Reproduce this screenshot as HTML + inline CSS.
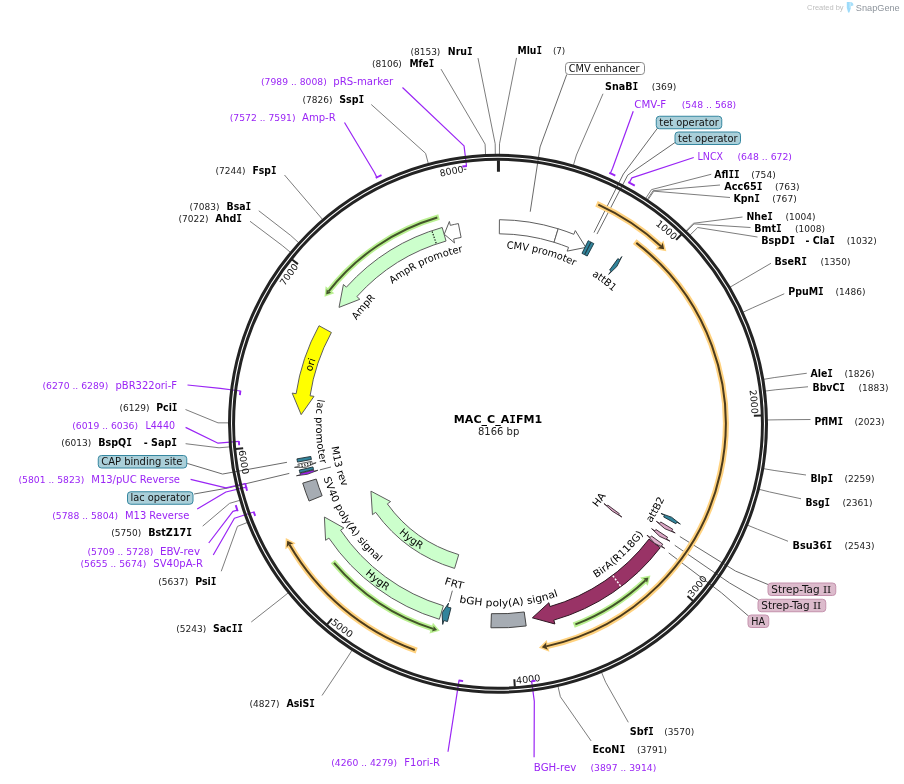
<!DOCTYPE html>
<html><head><meta charset="utf-8"><title>MAC_C_AIFM1</title>
<style>html,body{margin:0;padding:0;background:#fff}svg{display:block}text{font-family:"DejaVu Sans","Liberation Sans",sans-serif;white-space:pre}</style>
</head><body>
<svg width="904" height="784" viewBox="0 0 904 784">
<rect width="904" height="784" fill="#ffffff"/>
<defs>
<path id="p1" d="M 588.96 186.95 A 253.72 253.72 0 0 1 719.93 300.83"/>
<path id="p2" d="M 728.12 316.96 A 253.72 253.72 0 0 1 742.96 489.87"/>
<path id="p3" d="M 631.46 647.5 A 260.48 260.48 0 0 0 744.02 509.38"/>
<path id="p4" d="M 438.23 677.33 A 260.48 260.48 0 0 0 615.18 656.44"/>
<path id="p5" d="M 278.68 564.33 A 260.48 260.48 0 0 0 420.32 672.43"/>
<path id="p6" d="M 242.69 372.15 A 260.48 260.48 0 0 0 269.22 548.35"/>
<path id="p7" d="M 253.54 355.91 A 253.72 253.72 0 0 1 354.37 214.65"/>
<path id="p8" d="M 369.64 204.95 A 253.72 253.72 0 0 1 540.34 173.64"/>
<path id="p9" d="M 372.47 301.3 A 175.4 175.4 0 0 1 666.86 376.34"/>
<path id="p10" d="M 428.48 262.77 A 175.4 175.4 0 0 1 672.22 444.11"/>
<path id="p11" d="M 323.47 406.38 A 175.4 175.4 0 0 1 600.35 281.36"/>
<path id="p12" d="M 332.16 480.9 A 175.4 175.4 0 0 1 531.47 251.62"/>
<path id="p13" d="M 355.41 554.46 A 193.4 193.4 0 0 1 456.14 234.98"/>
<path id="p14" d="M 400.16 270.22 A 182.1 182.1 0 0 0 413.92 585.32"/>
<path id="p15" d="M 379.34 304.73 A 168.1 168.1 0 0 0 454.21 586.1"/>
<path id="p16" d="M 335.01 341.47 A 182.6 182.6 0 0 0 508.19 606.12"/>
<path id="p17" d="M 299.16 397.27 A 200.6 200.6 0 0 0 574.44 609.26"/>
<path id="p18" d="M 351.5 405.81 A 147.6 147.6 0 0 0 555.67 559.67"/>
<path id="p19" d="M 334.44 466.71 A 169.1 169.1 0 0 0 616.94 544"/>
<path id="p20" d="M 345.73 524.58 A 182.6 182.6 0 0 0 661.42 505.28"/>
<path id="p21" d="M 443.55 598.09 A 182.6 182.6 0 0 0 676.17 383.81"/>
<path id="p22" d="M 502.46 606.35 A 182.6 182.6 0 0 0 653.86 328.66"/>
<path id="p23" d="M 482.41 552.66 A 129.8 129.8 0 0 0 617.39 372.87"/>
</defs>
<polyline points="516.5,57.9 499.51,143.8 499.45,154.8" fill="none" stroke="#7d7d7d" stroke-width="1" />
<polyline points="603,93.75 576.43,155.01 573.35,165.57" fill="none" stroke="#7d7d7d" stroke-width="1" />
<polyline points="711.25,174.25 651.48,189.61 645.45,198.81" fill="none" stroke="#7d7d7d" stroke-width="1" />
<polyline points="720,185 653.1,190.68 647.01,199.84" fill="none" stroke="#7d7d7d" stroke-width="1" />
<polyline points="730,197.5 653.82,191.16 647.7,200.3" fill="none" stroke="#7d7d7d" stroke-width="1" />
<polyline points="742.5,217 693.42,223.27 685.74,231.15" fill="none" stroke="#7d7d7d" stroke-width="1" />
<polyline points="750.5,227.5 694.04,223.88 686.34,231.73" fill="none" stroke="#7d7d7d" stroke-width="1" />
<polyline points="757.5,237 697.7,227.53 689.85,235.24" fill="none" stroke="#7d7d7d" stroke-width="1" />
<polyline points="771,263.25 739.29,281.75 729.81,287.33" fill="none" stroke="#7d7d7d" stroke-width="1" />
<polyline points="784.25,293.75 752.81,307.73 742.8,312.29" fill="none" stroke="#7d7d7d" stroke-width="1" />
<polyline points="806.75,373.25 774.16,377.58 763.31,379.4" fill="none" stroke="#7d7d7d" stroke-width="1" />
<polyline points="808,386.75 775.92,389.74 765,391.08" fill="none" stroke="#7d7d7d" stroke-width="1" />
<polyline points="810.5,419.5 777.97,419.81 766.97,419.97" fill="none" stroke="#7d7d7d" stroke-width="1" />
<polyline points="806,475 774.09,470.44 763.24,468.61" fill="none" stroke="#7d7d7d" stroke-width="1" />
<polyline points="801,498.75 769.58,491.94 758.91,489.27" fill="none" stroke="#7d7d7d" stroke-width="1" />
<polyline points="788,541.25 757.41,529.18 747.22,525.04" fill="none" stroke="#7d7d7d" stroke-width="1" />
<polyline points="628.3,722.3 605.67,682.27 601.44,672.12" fill="none" stroke="#7d7d7d" stroke-width="1" />
<polyline points="591.1,740.9 560.38,696.76 557.93,686.04" fill="none" stroke="#7d7d7d" stroke-width="1" />
<polyline points="478,58.1 495.2,143.81 495.31,154.81" fill="none" stroke="#7d7d7d" stroke-width="1" />
<polyline points="441,69.1 485.08,144.1 485.59,155.09" fill="none" stroke="#7d7d7d" stroke-width="1" />
<polyline points="371.25,104.5 425.58,153.33 428.43,163.95" fill="none" stroke="#7d7d7d" stroke-width="1" />
<polyline points="284.5,175 315.61,211.35 322.78,219.7" fill="none" stroke="#7d7d7d" stroke-width="1" />
<polyline points="258.75,210.75 290.76,235.52 298.9,242.91" fill="none" stroke="#7d7d7d" stroke-width="1" />
<polyline points="250,221.25 282.15,245.45 290.63,252.45" fill="none" stroke="#7d7d7d" stroke-width="1" />
<polyline points="185.5,409.5 218,422.83 229,422.87" fill="none" stroke="#7d7d7d" stroke-width="1" />
<polyline points="185.6,443.7 219.03,447.79 229.99,446.85" fill="none" stroke="#7d7d7d" stroke-width="1" />
<polyline points="202.7,526.1 229.54,503.37 240.09,500.24" fill="none" stroke="#7d7d7d" stroke-width="1" />
<polyline points="221.25,571.25 237.47,526.38 247.7,522.35" fill="none" stroke="#7d7d7d" stroke-width="1" />
<polyline points="251.25,622 279.97,599.48 288.54,592.58" fill="none" stroke="#7d7d7d" stroke-width="1" />
<polyline points="322,695.5 346.32,659.16 352.28,649.91" fill="none" stroke="#7d7d7d" stroke-width="1" />
<polyline points="566.75,74.5 540.07,146.98 530.23,211.73" fill="none" stroke="#6a6a6a" stroke-width="1" />
<polyline points="658,127.5 623.37,173.99 593.99,232.53" fill="none" stroke="#6a6a6a" stroke-width="1" />
<polyline points="675,142.5 627.74,175.11 596.98,234.07" fill="none" stroke="#6a6a6a" stroke-width="1" />
<polyline points="768,584.5 735.55,571.08 679.88,536.57" fill="none" stroke="#6a6a6a" stroke-width="1" />
<polyline points="758.75,600 729.58,582.96 674.78,545.29" fill="none" stroke="#6a6a6a" stroke-width="1" />
<polyline points="748.75,616.25 721.32,592.7 668.68,552.89" fill="none" stroke="#6a6a6a" stroke-width="1" />
<polyline points="187.2,463.4 222.55,474.06 286.98,462.3" fill="none" stroke="#6a6a6a" stroke-width="1" />
<polyline points="194.1,494 227.53,488.08 289.31,473.4" fill="none" stroke="#6a6a6a" stroke-width="1" />
<line x1="319.86" y1="469.87" x2="330.99" y2="466.99" stroke="#6a6a6a" stroke-width="1"/>
<line x1="449.32" y1="601.76" x2="452.35" y2="590.67" stroke="#6a6a6a" stroke-width="1"/>
<polyline points="402.5,87.5 464.04,145.87 466.51,166.02" fill="none" stroke="#9a25f5" stroke-width="1.2" stroke-linejoin="round"/>
<polyline points="344.5,122.5 374.44,172.54 376.82,177.38" fill="none" stroke="#9a25f5" stroke-width="1.2" stroke-linejoin="round"/>
<polyline points="187.5,385 220.24,388.45 240.38,391.02" fill="none" stroke="#9a25f5" stroke-width="1.2" stroke-linejoin="round"/>
<polyline points="185.6,427.4 218.1,443.2 238.9,441.47" fill="none" stroke="#9a25f5" stroke-width="1.2" stroke-linejoin="round"/>
<polyline points="190.6,479.3 225.9,487.8 245.26,483.51" fill="none" stroke="#9a25f5" stroke-width="1.2" stroke-linejoin="round"/>
<polyline points="197.2,509 225.9,492 246.16,487.2" fill="none" stroke="#9a25f5" stroke-width="1.2" stroke-linejoin="round"/>
<polyline points="208.75,543 232.9,511.4 237.31,510.1" fill="none" stroke="#9a25f5" stroke-width="1.2" stroke-linejoin="round"/>
<polyline points="213.25,555 234.4,518.3 253.75,512.03" fill="none" stroke="#9a25f5" stroke-width="1.2" stroke-linejoin="round"/>
<polyline points="448,751.75 455.93,700.62 458.98,680.55" fill="none" stroke="#9a25f5" stroke-width="1.2" stroke-linejoin="round"/>
<polyline points="633.25,111.25 612.59,168.32 610.38,173.25" fill="none" stroke="#9a25f5" stroke-width="1.2" stroke-linejoin="round"/>
<polyline points="693.75,157.5 631.89,177.89 629.31,182.63" fill="none" stroke="#9a25f5" stroke-width="1.2" stroke-linejoin="round"/>
<polyline points="534.1,757.3 534.31,701.44 531.67,681.31" fill="none" stroke="#9a25f5" stroke-width="1.2" stroke-linejoin="round"/>
<circle cx="498" cy="423.8" r="268.5" fill="none" stroke="#232323" stroke-width="3"/>
<circle cx="498" cy="423.8" r="264.45" fill="none" stroke="#232323" stroke-width="3"/>
<line x1="498.46" y1="160.3" x2="498.44" y2="171.8" stroke="#232323" stroke-width="3"/>
<line x1="681.32" y1="234.53" x2="676.11" y2="239.91" stroke="#232323" stroke-width="2"/>
<text font-size="9.4" fill="#111" font-weight="normal" text-anchor="middle"><textPath href="#p1" startOffset="50%" textLength="23.88" lengthAdjust="spacingAndGlyphs">1000</textPath></text>
<line x1="761.37" y1="415.39" x2="753.87" y2="415.63" stroke="#232323" stroke-width="2"/>
<text font-size="9.4" fill="#111" font-weight="normal" text-anchor="middle"><textPath href="#p2" startOffset="50%" textLength="23.88" lengthAdjust="spacingAndGlyphs">2000</textPath></text>
<line x1="693.03" y1="600.99" x2="687.48" y2="595.94" stroke="#232323" stroke-width="2"/>
<text font-size="9.4" fill="#111" font-weight="normal" text-anchor="middle"><textPath href="#p3" startOffset="50%" textLength="24.52" lengthAdjust="spacingAndGlyphs">3000</textPath></text>
<line x1="514.82" y1="686.76" x2="514.34" y2="679.28" stroke="#232323" stroke-width="2"/>
<text font-size="9.4" fill="#111" font-weight="normal" text-anchor="middle"><textPath href="#p4" startOffset="50%" textLength="24.52" lengthAdjust="spacingAndGlyphs">4000</textPath></text>
<line x1="327.13" y1="624.39" x2="331.99" y2="618.68" stroke="#232323" stroke-width="2"/>
<text font-size="9.4" fill="#111" font-weight="normal" text-anchor="middle"><textPath href="#p5" startOffset="50%" textLength="24.52" lengthAdjust="spacingAndGlyphs">5000</textPath></text>
<line x1="235.71" y1="449" x2="243.17" y2="448.29" stroke="#232323" stroke-width="2"/>
<text font-size="9.4" fill="#111" font-weight="normal" text-anchor="middle"><textPath href="#p6" startOffset="50%" textLength="24.52" lengthAdjust="spacingAndGlyphs">6000</textPath></text>
<line x1="292.06" y1="259.42" x2="297.92" y2="264.1" stroke="#232323" stroke-width="2"/>
<text font-size="9.4" fill="#111" font-weight="normal" text-anchor="middle"><textPath href="#p7" startOffset="50%" textLength="23.88" lengthAdjust="spacingAndGlyphs">7000</textPath></text>
<text font-size="9.4" fill="#111" font-weight="normal" text-anchor="middle"><textPath href="#p8" startOffset="50%" textLength="23.88" lengthAdjust="spacingAndGlyphs">8000</textPath></text>
<line x1="463.9" y1="169.3" x2="466.3" y2="169.3" stroke="#333" stroke-width="0.9"/>
<path d="M 462.34 166.56 A 259.7 259.7 0 0 1 466.9 165.97" fill="none" stroke="#9a25f5" stroke-width="1.9"/>
<path d="M 375.74 177.92 A 274.6 274.6 0 0 1 381.52 175.13" fill="none" stroke="#9a25f5" stroke-width="1.9"/>
<path d="M 239.88 395.18 A 259.7 259.7 0 0 1 240.43 390.62" fill="none" stroke="#9a25f5" stroke-width="1.9"/>
<path d="M 239.19 445.26 A 259.7 259.7 0 0 1 238.87 441.07" fill="none" stroke="#9a25f5" stroke-width="1.9"/>
<path d="M 246.4 488.16 A 259.7 259.7 0 0 1 245.17 483.12" fill="none" stroke="#9a25f5" stroke-width="1.9"/>
<path d="M 247.06 490.68 A 259.7 259.7 0 0 1 246.06 486.81" fill="none" stroke="#9a25f5" stroke-width="1.9"/>
<path d="M 237.69 511.24 A 274.6 274.6 0 0 1 235.72 505.14" fill="none" stroke="#9a25f5" stroke-width="1.9"/>
<path d="M 255.2 515.96 A 259.7 259.7 0 0 1 253.61 511.65" fill="none" stroke="#9a25f5" stroke-width="1.9"/>
<path d="M 463.14 681.15 A 259.7 259.7 0 0 1 458.59 680.49" fill="none" stroke="#9a25f5" stroke-width="1.9"/>
<path d="M 609.29 172.76 A 274.6 274.6 0 0 1 615.31 175.52" fill="none" stroke="#9a25f5" stroke-width="1.9"/>
<path d="M 628.26 182.06 A 274.6 274.6 0 0 1 634.78 185.69" fill="none" stroke="#9a25f5" stroke-width="1.9"/>
<path d="M 535.44 680.79 A 259.7 259.7 0 0 1 531.28 681.36" fill="none" stroke="#9a25f5" stroke-width="1.9"/>
<path d="M 596.5 203.85 A 241 241 0 0 1 660.94 246.23" fill="none" stroke="#ffd27f" stroke-width="6" stroke-linecap="butt"/>
<path d="M 666.32 251.32 L 663.48 240.43 L 655.44 249.34 Z" fill="#ffd27f"/>
<path d="M 598.32 204.67 A 241 241 0 0 1 660.94 246.23" fill="none" stroke="#4c3b1c" stroke-width="2"/>
<path d="M 664.16 249.24 L 662.76 242.75 L 660.94 246.23 L 657.65 248.37 Z" fill="#4c3b1c"/>
<path d="M 416.66 650.66 A 241 241 0 0 1 289.41 544.52" fill="none" stroke="#ffd27f" stroke-width="6" stroke-linecap="butt"/>
<path d="M 285.8 538.06 L 285.25 549.29 L 295.59 543.19 Z" fill="#ffd27f"/>
<path d="M 414.78 649.98 A 241 241 0 0 1 289.41 544.52" fill="none" stroke="#4c3b1c" stroke-width="2"/>
<path d="M 287.24 540.69 L 286.63 547.3 L 289.41 544.52 L 293.2 543.46 Z" fill="#4c3b1c"/>
<path d="M 634.71 241.7 A 227.7 227.7 0 0 1 546.13 646.36" fill="none" stroke="#ffd27f" stroke-width="6" stroke-linecap="butt"/>
<path d="M 538.87 647.8 L 549.4 651.78 L 546.76 640.07 Z" fill="#ffd27f"/>
<path d="M 636.3 242.91 A 227.7 227.7 0 0 1 546.13 646.36" fill="none" stroke="#4c3b1c" stroke-width="2"/>
<path d="M 541.82 647.24 L 547.92 649.85 L 546.13 646.36 L 546.28 642.43 Z" fill="#4c3b1c"/>
<path d="M 439.03 217.05 A 215 215 0 0 0 328.61 291.4" fill="none" stroke="#b9f090" stroke-width="5.6" stroke-linecap="butt"/>
<path d="M 324.5 296.82 L 325.59 286.18 L 334.35 293.16 Z" fill="#b9f090"/>
<path d="M 437.3 217.55 A 215 215 0 0 0 328.61 291.4" fill="none" stroke="#43552a" stroke-width="2"/>
<path d="M 326.17 294.57 L 326.7 289.13 L 328.61 291.4 L 331.26 292.72 Z" fill="#43552a"/>
<path d="M 332.87 561.48 A 215 215 0 0 0 433.3 628.84" fill="none" stroke="#b9f090" stroke-width="5.6" stroke-linecap="butt"/>
<path d="M 439.82 630.78 L 429.47 633.49 L 432.95 622.84 Z" fill="#b9f090"/>
<path d="M 334.03 562.86 A 215 215 0 0 0 433.3 628.84" fill="none" stroke="#43552a" stroke-width="2"/>
<path d="M 437.13 630 L 431.85 631.42 L 433.3 628.84 L 433.61 625.89 Z" fill="#43552a"/>
<path d="M 573.72 625.03 A 215 215 0 0 0 645.55 580.17" fill="none" stroke="#b9f090" stroke-width="5.6" stroke-linecap="butt"/>
<path d="M 650.43 575.43 L 647.75 585.79 L 640.15 577.56 Z" fill="#b9f090"/>
<path d="M 575.4 624.39 A 215 215 0 0 0 645.55 580.17" fill="none" stroke="#43552a" stroke-width="2"/>
<path d="M 648.44 577.4 L 647.1 582.7 L 645.55 580.17 L 643.13 578.47 Z" fill="#43552a"/>
<path d="M 499.33 233.8 A 190 190 0 0 1 554.02 242.25 L 558.18 228.77 A 204.1 204.1 0 0 0 499.42 219.7 Z" fill="#ffffff" stroke="#5e5e5e" stroke-width="1"/>
<path d="M 554.02 242.25 A 190 190 0 0 1 568.59 247.4 L 567.11 251.12 L 585.84 247.41 L 575.32 230.6 L 573.83 234.31 A 204.1 204.1 0 0 0 558.18 228.77 Z" fill="#ffffff" stroke="#5e5e5e" stroke-width="1" stroke-linejoin="miter" />
<path d="M 581.98 253.37 A 190 190 0 0 1 584.46 254.61 L 590.88 242.06 A 204.1 204.1 0 0 0 588.21 240.72 Z" fill="#31849b" stroke="#1f3f4a" stroke-width="1"/>
<path d="M 584.72 254.75 A 190 190 0 0 1 587.18 256.03 L 593.8 243.58 A 204.1 204.1 0 0 0 591.16 242.2 Z" fill="#31849b" stroke="#1f3f4a" stroke-width="1"/>
<path d="M 609.61 270.04 A 190 190 0 0 1 611.08 271.12 L 608.7 274.33 L 616.8 266.59 L 621.85 256.57 L 619.47 259.78 A 204.1 204.1 0 0 0 617.89 258.62 Z" fill="#31849b" stroke="#1c2c33" stroke-width="0.9" stroke-linejoin="miter" />
<path d="M 663.63 516.89 A 190 190 0 0 0 664.48 515.36 L 660.98 513.43 L 671.53 517.16 L 680.34 524.08 L 676.84 522.16 A 204.1 204.1 0 0 1 675.92 523.8 Z" fill="#31849b" stroke="#1c2c33" stroke-width="0.9" stroke-linejoin="miter" />
<path d="M 660.69 521.95 A 190 190 0 0 1 659.77 523.45 L 656.37 521.35 L 664.82 528.69 L 675.19 532.94 L 671.78 530.84 A 204.1 204.1 0 0 0 672.76 529.23 Z" fill="#d9a6c4" stroke="#33222b" stroke-width="0.9" stroke-linejoin="miter" />
<path d="M 655.9 529.47 A 190 190 0 0 1 654.92 530.93 L 651.62 528.67 L 659.71 536.4 L 669.87 541.13 L 666.57 538.88 A 204.1 204.1 0 0 0 667.62 537.31 Z" fill="#d9a6c4" stroke="#33222b" stroke-width="0.9" stroke-linejoin="miter" />
<path d="M 649.01 539.1 A 190 190 0 0 1 549.95 606.56 L 548.85 602.71 L 532.39 617.83 L 554.89 623.97 L 553.8 620.12 A 204.1 204.1 0 0 0 660.22 547.66 Z" fill="#993366" stroke="#2e1622" stroke-width="1" stroke-linejoin="miter" />
<line x1="612.85" y1="575.79" x2="620.74" y2="586.24" stroke="#fff" stroke-width="1.5" stroke-dasharray="2 1.6"/>
<path d="M 651.38 535.94 A 190 190 0 0 1 650.2 537.53 L 647 535.13 L 654.62 543.38 L 664.7 548.36 L 661.5 545.97 A 204.1 204.1 0 0 0 662.76 544.26 Z" fill="#deb0cb" stroke="#33222b" stroke-width="0.9" stroke-linejoin="miter" />
<path d="M 607.77 505.1 A 136.6 136.6 0 0 1 607.14 505.94 L 603.95 503.54 L 612.23 511.15 L 621.84 517.01 L 618.65 514.6 A 151 151 0 0 0 619.34 513.67 Z" fill="#d9a6c4" stroke="#33222b" stroke-width="0.9" stroke-linejoin="miter" />
<path d="M 524.23 611.98 A 190 190 0 0 1 491.42 613.69 L 490.93 627.78 A 204.1 204.1 0 0 0 526.18 625.95 Z" fill="#a6acb3" stroke="#444" stroke-width="1"/>
<path d="M 450.98 607.89 A 190 190 0 0 1 447.52 606.97 L 448.58 603.12 L 442.07 612.75 L 442.71 624.42 L 443.77 620.56 A 204.1 204.1 0 0 0 447.49 621.55 Z" fill="#31849b" stroke="#1c2c33" stroke-width="0.9" stroke-linejoin="miter" />
<path d="M 443.38 605.78 A 190 190 0 0 1 340.58 530.19 L 343.89 527.95 L 324.4 517.03 L 325.58 540.32 L 328.9 538.08 A 204.1 204.1 0 0 0 439.32 619.28 Z" fill="#ccffcc" stroke="#5e5e5e" stroke-width="1" stroke-linejoin="miter" />
<path d="M 458.73 554.63 A 136.6 136.6 0 0 1 387.34 503.89 L 390.58 501.55 L 370.95 491.15 L 372.44 514.68 L 375.68 512.34 A 151 151 0 0 0 454.59 568.42 Z" fill="#ccffcc" stroke="#5e5e5e" stroke-width="1" stroke-linejoin="miter" />
<path d="M 322.14 495.72 A 190 190 0 0 1 316.21 479.05 L 302.72 483.16 A 204.1 204.1 0 0 0 309.09 501.05 Z" fill="#a6acb3" stroke="#444" stroke-width="1"/>
<path d="M 313.71 470.04 A 190 190 0 0 0 314.02 471.24 L 317.89 470.24 L 307.52 474.25 L 296.49 475.76 L 300.37 474.76 A 204.1 204.1 0 0 1 300.04 473.47 Z" fill="#a020f0" stroke="#333" stroke-width="0.8" stroke-linejoin="miter" />
<path d="M 313.57 469.47 A 190 190 0 0 1 312.96 466.91 L 299.22 470.11 A 204.1 204.1 0 0 0 299.88 472.86 Z" fill="#31849b" stroke="#1c2c33" stroke-width="0.9"/>
<path d="M 311.75 461.34 A 190 190 0 0 0 312.21 463.56 L 316.12 462.72 L 305.82 467.33 L 294.51 467.35 L 298.42 466.51 A 204.1 204.1 0 0 1 297.92 464.13 Z" fill="#ffffff" stroke="#333" stroke-width="0.8" stroke-linejoin="miter" />
<line x1="311.37" y1="464.42" x2="299.55" y2="466.99" stroke="#222" stroke-width="1.2" stroke-dasharray="1.3 1.6"/>
<line x1="311.03" y1="462.84" x2="299.19" y2="465.31" stroke="#222" stroke-width="1.2" stroke-dasharray="1.3 1.6"/>
<path d="M 311.38 459.48 A 190 190 0 0 1 310.83 456.46 L 296.94 458.88 A 204.1 204.1 0 0 0 297.53 462.12 Z" fill="#31849b" stroke="#1c2c33" stroke-width="0.9"/>
<path d="M 331.38 332.49 A 190 190 0 0 0 310.08 395.77 L 314.03 396.36 L 301.16 414.63 L 292.18 393.1 L 296.13 393.69 A 204.1 204.1 0 0 1 319.01 325.72 Z" fill="#ffff00" stroke="#5e5e5e" stroke-width="1" stroke-linejoin="miter" />
<path d="M 446.04 241.04 A 190 190 0 0 0 356.87 296.59 L 359.84 299.27 L 339.02 307.38 L 343.43 284.47 L 346.4 287.15 A 204.1 204.1 0 0 1 442.19 227.48 Z" fill="#ccffcc" stroke="#5e5e5e" stroke-width="1" stroke-linejoin="miter" />
<line x1="436.16" y1="243.3" x2="432.11" y2="231.48" stroke="#000" stroke-width="1.1" stroke-dasharray="1.4 1.4"/>
<path d="M 461.1 237.42 A 190 190 0 0 0 453.61 239.06 L 454.54 242.95 L 444.26 234.22 L 449.38 221.46 L 450.31 225.35 A 204.1 204.1 0 0 1 458.36 223.59 Z" fill="#ffffff" stroke="#5e5e5e" stroke-width="1" stroke-linejoin="miter" />
<text font-size="10" fill="#000" font-weight="normal" text-anchor="middle"><textPath href="#p9" startOffset="50%" textLength="70.85" lengthAdjust="spacingAndGlyphs">CMV promoter</textPath></text>
<text font-size="10" fill="#000" font-weight="normal" text-anchor="middle"><textPath href="#p10" startOffset="50%" textLength="26.55" lengthAdjust="spacingAndGlyphs">attB1</textPath></text>
<text font-size="10" fill="#000" font-weight="normal" text-anchor="middle"><textPath href="#p11" startOffset="50%" textLength="78.2" lengthAdjust="spacingAndGlyphs">AmpR promoter</textPath></text>
<text font-size="10" fill="#000" font-weight="normal" text-anchor="middle"><textPath href="#p12" startOffset="50%" textLength="29.2" lengthAdjust="spacingAndGlyphs">AmpR</textPath></text>
<text font-size="10" fill="#000" font-weight="normal" text-anchor="middle"><textPath href="#p13" startOffset="50%" textLength="12.86" lengthAdjust="spacingAndGlyphs">ori</textPath></text>
<text font-size="10" fill="#000" font-weight="normal" text-anchor="middle"><textPath href="#p14" startOffset="50%" textLength="65.29" lengthAdjust="spacingAndGlyphs">lac promoter</textPath></text>
<text font-size="10" fill="#000" font-weight="normal" text-anchor="middle"><textPath href="#p15" startOffset="50%" textLength="41.69" lengthAdjust="spacingAndGlyphs">M13 rev</textPath></text>
<text font-size="10" fill="#000" font-weight="normal" text-anchor="middle"><textPath href="#p16" startOffset="50%" textLength="101.6" lengthAdjust="spacingAndGlyphs">SV40 poly(A) signal</textPath></text>
<text font-size="10" fill="#000" font-weight="normal" text-anchor="middle"><textPath href="#p17" startOffset="50%" textLength="27.09" lengthAdjust="spacingAndGlyphs">HygR</textPath></text>
<text font-size="10" fill="#000" font-weight="normal" text-anchor="middle"><textPath href="#p18" startOffset="50%" textLength="27.27" lengthAdjust="spacingAndGlyphs">HygR</textPath></text>
<text font-size="10" fill="#000" font-weight="normal" text-anchor="middle"><textPath href="#p19" startOffset="50%" textLength="19.31" lengthAdjust="spacingAndGlyphs">FRT</textPath></text>
<text font-size="10" fill="#000" font-weight="normal" text-anchor="middle"><textPath href="#p20" startOffset="50%" textLength="100.69" lengthAdjust="spacingAndGlyphs">bGH poly(A) signal</textPath></text>
<text font-size="10" fill="#000" font-weight="normal" text-anchor="middle"><textPath href="#p21" startOffset="50%" textLength="64.88" lengthAdjust="spacingAndGlyphs">BirA(R118G)</textPath></text>
<text font-size="10" fill="#000" font-weight="normal" text-anchor="middle"><textPath href="#p22" startOffset="50%" textLength="27.65" lengthAdjust="spacingAndGlyphs">attB2</textPath></text>
<text font-size="10" fill="#000" font-weight="normal" text-anchor="middle"><textPath href="#p23" startOffset="50%" textLength="14.76" lengthAdjust="spacingAndGlyphs">HA</textPath></text>
<text x="498" y="422.6" font-size="10.2" text-anchor="middle" fill="#000" font-weight="bold" textLength="88.3" lengthAdjust="spacingAndGlyphs">MAC_C_A<tspan font-family='"DejaVu Sans Mono","Liberation Mono",monospace'>I</tspan>FM1</text>
<text x="498.6" y="434.8" font-size="10" text-anchor="middle" fill="#222" font-weight="normal" >8166 bp</text>
<text x="517.5" y="53.9" font-size="10" text-anchor="start" fill="#000" font-weight="bold" textLength="24.5" lengthAdjust="spacingAndGlyphs">Mlu<tspan font-family='"DejaVu Sans Mono","Liberation Mono",monospace'>I</tspan></text>
<text x="552.9" y="53.9" font-size="8.7" text-anchor="start" fill="#222" font-weight="normal" textLength="12.4" lengthAdjust="spacingAndGlyphs">(7)</text>
<text x="605" y="90" font-size="10" text-anchor="start" fill="#000" font-weight="bold" textLength="33.25" lengthAdjust="spacingAndGlyphs">SnaB<tspan font-family='"DejaVu Sans Mono","Liberation Mono",monospace'>I</tspan></text>
<text x="651.75" y="90" font-size="8.7" text-anchor="start" fill="#222" font-weight="normal" textLength="24.5" lengthAdjust="spacingAndGlyphs">(369)</text>
<text x="714.25" y="178" font-size="10" text-anchor="start" fill="#000" font-weight="bold" textLength="25.4" lengthAdjust="spacingAndGlyphs">Afl<tspan font-family='"DejaVu Sans Mono","Liberation Mono",monospace'>I</tspan><tspan font-family='"DejaVu Sans Mono","Liberation Mono",monospace'>I</tspan></text>
<text x="751.25" y="178" font-size="8.7" text-anchor="start" fill="#222" font-weight="normal" textLength="24.5" lengthAdjust="spacingAndGlyphs">(754)</text>
<text x="724.25" y="190" font-size="10" text-anchor="start" fill="#000" font-weight="bold" textLength="38.25" lengthAdjust="spacingAndGlyphs">Acc65<tspan font-family='"DejaVu Sans Mono","Liberation Mono",monospace'>I</tspan></text>
<text x="775" y="190" font-size="8.7" text-anchor="start" fill="#222" font-weight="normal" textLength="24.5" lengthAdjust="spacingAndGlyphs">(763)</text>
<text x="733.4" y="202" font-size="10" text-anchor="start" fill="#000" font-weight="bold" textLength="26.6" lengthAdjust="spacingAndGlyphs">Kpn<tspan font-family='"DejaVu Sans Mono","Liberation Mono",monospace'>I</tspan></text>
<text x="772.25" y="202" font-size="8.7" text-anchor="start" fill="#222" font-weight="normal" textLength="24.5" lengthAdjust="spacingAndGlyphs">(767)</text>
<text x="746.5" y="220" font-size="10" text-anchor="start" fill="#000" font-weight="bold" textLength="26.5" lengthAdjust="spacingAndGlyphs">Nhe<tspan font-family='"DejaVu Sans Mono","Liberation Mono",monospace'>I</tspan></text>
<text x="785.5" y="220" font-size="8.7" text-anchor="start" fill="#222" font-weight="normal" textLength="30" lengthAdjust="spacingAndGlyphs">(1004)</text>
<text x="754.25" y="232" font-size="10" text-anchor="start" fill="#000" font-weight="bold" textLength="27.5" lengthAdjust="spacingAndGlyphs">Bmt<tspan font-family='"DejaVu Sans Mono","Liberation Mono",monospace'>I</tspan></text>
<text x="795" y="232" font-size="8.7" text-anchor="start" fill="#222" font-weight="normal" textLength="30" lengthAdjust="spacingAndGlyphs">(1008)</text>
<text x="761.25" y="244.25" font-size="10" text-anchor="start" fill="#000" font-weight="bold" textLength="33.75" lengthAdjust="spacingAndGlyphs">BspD<tspan font-family='"DejaVu Sans Mono","Liberation Mono",monospace'>I</tspan></text>
<text x="846.75" y="244.25" font-size="8.7" text-anchor="start" fill="#222" font-weight="normal" textLength="30" lengthAdjust="spacingAndGlyphs">(1032)</text>
<text x="774.5" y="265" font-size="10" text-anchor="start" fill="#000" font-weight="bold" textLength="32.5" lengthAdjust="spacingAndGlyphs">BseR<tspan font-family='"DejaVu Sans Mono","Liberation Mono",monospace'>I</tspan></text>
<text x="820.5" y="265" font-size="8.7" text-anchor="start" fill="#222" font-weight="normal" textLength="30" lengthAdjust="spacingAndGlyphs">(1350)</text>
<text x="788.25" y="295" font-size="10" text-anchor="start" fill="#000" font-weight="bold" textLength="35.5" lengthAdjust="spacingAndGlyphs">PpuM<tspan font-family='"DejaVu Sans Mono","Liberation Mono",monospace'>I</tspan></text>
<text x="835.5" y="295" font-size="8.7" text-anchor="start" fill="#222" font-weight="normal" textLength="30" lengthAdjust="spacingAndGlyphs">(1486)</text>
<text x="810.5" y="376.75" font-size="10" text-anchor="start" fill="#000" font-weight="bold" textLength="22.5" lengthAdjust="spacingAndGlyphs">Ale<tspan font-family='"DejaVu Sans Mono","Liberation Mono",monospace'>I</tspan></text>
<text x="844.5" y="376.75" font-size="8.7" text-anchor="start" fill="#222" font-weight="normal" textLength="30" lengthAdjust="spacingAndGlyphs">(1826)</text>
<text x="812.5" y="390.75" font-size="10" text-anchor="start" fill="#000" font-weight="bold" textLength="32.5" lengthAdjust="spacingAndGlyphs">BbvC<tspan font-family='"DejaVu Sans Mono","Liberation Mono",monospace'>I</tspan></text>
<text x="858.5" y="390.75" font-size="8.7" text-anchor="start" fill="#222" font-weight="normal" textLength="30" lengthAdjust="spacingAndGlyphs">(1883)</text>
<text x="814.5" y="425" font-size="10" text-anchor="start" fill="#000" font-weight="bold" textLength="28.5" lengthAdjust="spacingAndGlyphs">PflM<tspan font-family='"DejaVu Sans Mono","Liberation Mono",monospace'>I</tspan></text>
<text x="854.5" y="425" font-size="8.7" text-anchor="start" fill="#222" font-weight="normal" textLength="30" lengthAdjust="spacingAndGlyphs">(2023)</text>
<text x="810.5" y="481.75" font-size="10" text-anchor="start" fill="#000" font-weight="bold" textLength="22.5" lengthAdjust="spacingAndGlyphs">Blp<tspan font-family='"DejaVu Sans Mono","Liberation Mono",monospace'>I</tspan></text>
<text x="844.5" y="481.75" font-size="8.7" text-anchor="start" fill="#222" font-weight="normal" textLength="30" lengthAdjust="spacingAndGlyphs">(2259)</text>
<text x="805.5" y="505.75" font-size="10" text-anchor="start" fill="#000" font-weight="bold" textLength="24.5" lengthAdjust="spacingAndGlyphs">Bsg<tspan font-family='"DejaVu Sans Mono","Liberation Mono",monospace'>I</tspan></text>
<text x="842.5" y="505.75" font-size="8.7" text-anchor="start" fill="#222" font-weight="normal" textLength="30" lengthAdjust="spacingAndGlyphs">(2361)</text>
<text x="792.5" y="548.75" font-size="10" text-anchor="start" fill="#000" font-weight="bold" textLength="39.5" lengthAdjust="spacingAndGlyphs">Bsu36<tspan font-family='"DejaVu Sans Mono","Liberation Mono",monospace'>I</tspan></text>
<text x="844.5" y="548.75" font-size="8.7" text-anchor="start" fill="#222" font-weight="normal" textLength="30" lengthAdjust="spacingAndGlyphs">(2543)</text>
<text x="629.8" y="735.3" font-size="10" text-anchor="start" fill="#000" font-weight="bold" textLength="23.9" lengthAdjust="spacingAndGlyphs">Sbf<tspan font-family='"DejaVu Sans Mono","Liberation Mono",monospace'>I</tspan></text>
<text x="664.2" y="735.3" font-size="8.7" text-anchor="start" fill="#222" font-weight="normal" textLength="30" lengthAdjust="spacingAndGlyphs">(3570)</text>
<text x="592.4" y="753.3" font-size="10" text-anchor="start" fill="#000" font-weight="bold" textLength="32.8" lengthAdjust="spacingAndGlyphs">EcoN<tspan font-family='"DejaVu Sans Mono","Liberation Mono",monospace'>I</tspan></text>
<text x="637" y="753.3" font-size="8.7" text-anchor="start" fill="#222" font-weight="normal" textLength="30" lengthAdjust="spacingAndGlyphs">(3791)</text>
<text x="805.5" y="244.25" font-size="10" text-anchor="start" fill="#000" font-weight="bold" textLength="29.5" lengthAdjust="spacingAndGlyphs">- Cla<tspan font-family='"DejaVu Sans Mono","Liberation Mono",monospace'>I</tspan></text>
<text x="472.7" y="54.9" font-size="10" text-anchor="end" fill="#000" font-weight="bold" textLength="24.9" lengthAdjust="spacingAndGlyphs">Nru<tspan font-family='"DejaVu Sans Mono","Liberation Mono",monospace'>I</tspan></text>
<text x="440.4" y="54.9" font-size="8.7" text-anchor="end" fill="#222" font-weight="normal" textLength="30" lengthAdjust="spacingAndGlyphs">(8153)</text>
<text x="434.2" y="66.6" font-size="10" text-anchor="end" fill="#000" font-weight="bold" textLength="24.8" lengthAdjust="spacingAndGlyphs">Mfe<tspan font-family='"DejaVu Sans Mono","Liberation Mono",monospace'>I</tspan></text>
<text x="401.9" y="66.6" font-size="8.7" text-anchor="end" fill="#222" font-weight="normal" textLength="30" lengthAdjust="spacingAndGlyphs">(8106)</text>
<text x="364.25" y="103" font-size="10" text-anchor="end" fill="#000" font-weight="bold" textLength="25" lengthAdjust="spacingAndGlyphs">Ssp<tspan font-family='"DejaVu Sans Mono","Liberation Mono",monospace'>I</tspan></text>
<text x="332.5" y="103" font-size="8.7" text-anchor="end" fill="#222" font-weight="normal" textLength="30" lengthAdjust="spacingAndGlyphs">(7826)</text>
<text x="276.5" y="173.75" font-size="10" text-anchor="end" fill="#000" font-weight="bold" textLength="24" lengthAdjust="spacingAndGlyphs">Fsp<tspan font-family='"DejaVu Sans Mono","Liberation Mono",monospace'>I</tspan></text>
<text x="245.5" y="173.75" font-size="8.7" text-anchor="end" fill="#222" font-weight="normal" textLength="30" lengthAdjust="spacingAndGlyphs">(7244)</text>
<text x="251.25" y="209.5" font-size="10" text-anchor="end" fill="#000" font-weight="bold" textLength="24.75" lengthAdjust="spacingAndGlyphs">Bsa<tspan font-family='"DejaVu Sans Mono","Liberation Mono",monospace'>I</tspan></text>
<text x="219.5" y="209.5" font-size="8.7" text-anchor="end" fill="#222" font-weight="normal" textLength="30" lengthAdjust="spacingAndGlyphs">(7083)</text>
<text x="242" y="221.75" font-size="10" text-anchor="end" fill="#000" font-weight="bold" textLength="26.75" lengthAdjust="spacingAndGlyphs">Ahd<tspan font-family='"DejaVu Sans Mono","Liberation Mono",monospace'>I</tspan></text>
<text x="208.5" y="221.75" font-size="8.7" text-anchor="end" fill="#222" font-weight="normal" textLength="30" lengthAdjust="spacingAndGlyphs">(7022)</text>
<text x="177.5" y="410.5" font-size="10" text-anchor="end" fill="#000" font-weight="bold" textLength="21.25" lengthAdjust="spacingAndGlyphs">Pci<tspan font-family='"DejaVu Sans Mono","Liberation Mono",monospace'>I</tspan></text>
<text x="149.5" y="410.5" font-size="8.7" text-anchor="end" fill="#222" font-weight="normal" textLength="30" lengthAdjust="spacingAndGlyphs">(6129)</text>
<text x="177" y="446.25" font-size="10" text-anchor="end" fill="#000" font-weight="bold" textLength="33.25" lengthAdjust="spacingAndGlyphs">- Sap<tspan font-family='"DejaVu Sans Mono","Liberation Mono",monospace'>I</tspan></text>
<text x="91.25" y="446.25" font-size="8.7" text-anchor="end" fill="#222" font-weight="normal" textLength="30" lengthAdjust="spacingAndGlyphs">(6013)</text>
<text x="192" y="536.25" font-size="10" text-anchor="end" fill="#000" font-weight="bold" textLength="43.75" lengthAdjust="spacingAndGlyphs">BstZ17<tspan font-family='"DejaVu Sans Mono","Liberation Mono",monospace'>I</tspan></text>
<text x="141.25" y="536.25" font-size="8.7" text-anchor="end" fill="#222" font-weight="normal" textLength="30" lengthAdjust="spacingAndGlyphs">(5750)</text>
<text x="216.5" y="585" font-size="10" text-anchor="end" fill="#000" font-weight="bold" textLength="21.25" lengthAdjust="spacingAndGlyphs">Psi<tspan font-family='"DejaVu Sans Mono","Liberation Mono",monospace'>I</tspan></text>
<text x="188.25" y="585" font-size="8.7" text-anchor="end" fill="#222" font-weight="normal" textLength="30" lengthAdjust="spacingAndGlyphs">(5637)</text>
<text x="243" y="631.75" font-size="10" text-anchor="end" fill="#000" font-weight="bold" textLength="30" lengthAdjust="spacingAndGlyphs">Sac<tspan font-family='"DejaVu Sans Mono","Liberation Mono",monospace'>I</tspan><tspan font-family='"DejaVu Sans Mono","Liberation Mono",monospace'>I</tspan></text>
<text x="206.25" y="631.75" font-size="8.7" text-anchor="end" fill="#222" font-weight="normal" textLength="30" lengthAdjust="spacingAndGlyphs">(5243)</text>
<text x="315" y="706.75" font-size="10" text-anchor="end" fill="#000" font-weight="bold" textLength="28.5" lengthAdjust="spacingAndGlyphs">AsiS<tspan font-family='"DejaVu Sans Mono","Liberation Mono",monospace'>I</tspan></text>
<text x="279.5" y="706.75" font-size="8.7" text-anchor="end" fill="#222" font-weight="normal" textLength="30" lengthAdjust="spacingAndGlyphs">(4827)</text>
<text x="132" y="446.25" font-size="10" text-anchor="end" fill="#000" font-weight="bold" textLength="33.75" lengthAdjust="spacingAndGlyphs">BspQ<tspan font-family='"DejaVu Sans Mono","Liberation Mono",monospace'>I</tspan></text>
<text x="393.25" y="85" font-size="10" text-anchor="end" fill="#9a25f5" font-weight="normal" textLength="60" lengthAdjust="spacingAndGlyphs">pRS-marker</text>
<text x="326.75" y="85" font-size="8.7" text-anchor="end" fill="#9a25f5" font-weight="normal" textLength="65.75" lengthAdjust="spacingAndGlyphs">(7989 .. 8008)</text>
<text x="335.75" y="121.25" font-size="10" text-anchor="end" fill="#9a25f5" font-weight="normal" textLength="33.75" lengthAdjust="spacingAndGlyphs">Amp-R</text>
<text x="295.5" y="121.25" font-size="8.7" text-anchor="end" fill="#9a25f5" font-weight="normal" textLength="65.75" lengthAdjust="spacingAndGlyphs">(7572 .. 7591)</text>
<text x="177" y="388.75" font-size="10" text-anchor="end" fill="#9a25f5" font-weight="normal" textLength="61.5" lengthAdjust="spacingAndGlyphs">pBR322ori-F</text>
<text x="108.25" y="388.75" font-size="8.7" text-anchor="end" fill="#9a25f5" font-weight="normal" textLength="65.75" lengthAdjust="spacingAndGlyphs">(6270 .. 6289)</text>
<text x="175" y="428.75" font-size="10" text-anchor="end" fill="#9a25f5" font-weight="normal" textLength="29.5" lengthAdjust="spacingAndGlyphs">L4440</text>
<text x="138" y="428.75" font-size="8.7" text-anchor="end" fill="#9a25f5" font-weight="normal" textLength="65.75" lengthAdjust="spacingAndGlyphs">(6019 .. 6036)</text>
<text x="180" y="482.5" font-size="10" text-anchor="end" fill="#9a25f5" font-weight="normal" textLength="88.75" lengthAdjust="spacingAndGlyphs">M13/pUC Reverse</text>
<text x="84.25" y="482.5" font-size="8.7" text-anchor="end" fill="#9a25f5" font-weight="normal" textLength="65.75" lengthAdjust="spacingAndGlyphs">(5801 .. 5823)</text>
<text x="189.25" y="518.75" font-size="10" text-anchor="end" fill="#9a25f5" font-weight="normal" textLength="64.25" lengthAdjust="spacingAndGlyphs">M13 Reverse</text>
<text x="118" y="518.75" font-size="8.7" text-anchor="end" fill="#9a25f5" font-weight="normal" textLength="65.75" lengthAdjust="spacingAndGlyphs">(5788 .. 5804)</text>
<text x="200" y="555" font-size="10" text-anchor="end" fill="#9a25f5" font-weight="normal" textLength="40" lengthAdjust="spacingAndGlyphs">EBV-rev</text>
<text x="153.25" y="555" font-size="8.7" text-anchor="end" fill="#9a25f5" font-weight="normal" textLength="65.75" lengthAdjust="spacingAndGlyphs">(5709 .. 5728)</text>
<text x="203" y="566.75" font-size="10" text-anchor="end" fill="#9a25f5" font-weight="normal" textLength="49.75" lengthAdjust="spacingAndGlyphs">SV40pA-R</text>
<text x="146.25" y="566.75" font-size="8.7" text-anchor="end" fill="#9a25f5" font-weight="normal" textLength="65.75" lengthAdjust="spacingAndGlyphs">(5655 .. 5674)</text>
<text x="440" y="765.75" font-size="10" text-anchor="end" fill="#9a25f5" font-weight="normal" textLength="35.75" lengthAdjust="spacingAndGlyphs">F1ori-R</text>
<text x="397" y="765.75" font-size="8.7" text-anchor="end" fill="#9a25f5" font-weight="normal" textLength="65.75" lengthAdjust="spacingAndGlyphs">(4260 .. 4279)</text>
<text x="634.25" y="108" font-size="10" text-anchor="start" fill="#9a25f5" font-weight="normal" textLength="32" lengthAdjust="spacingAndGlyphs">CMV-F</text>
<text x="681.75" y="108" font-size="8.7" text-anchor="start" fill="#9a25f5" font-weight="normal" textLength="54.5" lengthAdjust="spacingAndGlyphs">(548 .. 568)</text>
<text x="697.5" y="160" font-size="10" text-anchor="start" fill="#9a25f5" font-weight="normal" textLength="25.5" lengthAdjust="spacingAndGlyphs">LNCX</text>
<text x="737.5" y="160" font-size="8.7" text-anchor="start" fill="#9a25f5" font-weight="normal" textLength="54.5" lengthAdjust="spacingAndGlyphs">(648 .. 672)</text>
<text x="533.8" y="771" font-size="10" text-anchor="start" fill="#9a25f5" font-weight="normal" textLength="42.5" lengthAdjust="spacingAndGlyphs">BGH-rev</text>
<text x="590.5" y="771" font-size="8.7" text-anchor="start" fill="#9a25f5" font-weight="normal" textLength="65.75" lengthAdjust="spacingAndGlyphs">(3897 .. 3914)</text>
<rect x="565.5" y="62.5" width="79" height="12" rx="3.2" ry="3.2" fill="#ffffff" stroke="#8a8a8a" stroke-width="1"/>
<text x="568.75" y="72" font-size="10" text-anchor="start" fill="#111" font-weight="normal" textLength="70.75" lengthAdjust="spacingAndGlyphs">CMV enhancer</text>
<rect x="656.25" y="116.25" width="65.5" height="12.5" rx="3.2" ry="3.2" fill="#aacfd9" stroke="#3587a0" stroke-width="1"/>
<text x="659.25" y="125.75" font-size="10" text-anchor="start" fill="#111" font-weight="normal" textLength="59.5" lengthAdjust="spacingAndGlyphs">tet operator</text>
<rect x="675" y="132" width="65.5" height="12.5" rx="3.2" ry="3.2" fill="#aacfd9" stroke="#3587a0" stroke-width="1"/>
<text x="678" y="141.5" font-size="10" text-anchor="start" fill="#111" font-weight="normal" textLength="59.5" lengthAdjust="spacingAndGlyphs">tet operator</text>
<rect x="98.25" y="455.5" width="88.5" height="12.5" rx="3.2" ry="3.2" fill="#aacfd9" stroke="#3587a0" stroke-width="1"/>
<text x="101.25" y="464.5" font-size="10" text-anchor="start" fill="#111" font-weight="normal" textLength="81.25" lengthAdjust="spacingAndGlyphs">CAP binding site</text>
<rect x="127.5" y="491.75" width="65.5" height="12.5" rx="3.2" ry="3.2" fill="#aacfd9" stroke="#3587a0" stroke-width="1"/>
<text x="130.5" y="500.5" font-size="10" text-anchor="start" fill="#111" font-weight="normal" textLength="59.5" lengthAdjust="spacingAndGlyphs">lac operator</text>
<rect x="768" y="583" width="67.75" height="12.5" rx="3.2" ry="3.2" fill="#dcbbcc" stroke="#c492ad" stroke-width="1"/>
<text x="771.25" y="593" font-size="10" text-anchor="start" fill="#111" font-weight="normal" textLength="60" lengthAdjust="spacingAndGlyphs">Strep-Tag <tspan font-family='"DejaVu Serif","Liberation Serif",serif'>I</tspan><tspan font-family='"DejaVu Serif","Liberation Serif",serif'>I</tspan></text>
<rect x="758" y="599.25" width="67.75" height="12.5" rx="3.2" ry="3.2" fill="#dcbbcc" stroke="#c492ad" stroke-width="1"/>
<text x="761.25" y="608.75" font-size="10" text-anchor="start" fill="#111" font-weight="normal" textLength="60" lengthAdjust="spacingAndGlyphs">Strep-Tag <tspan font-family='"DejaVu Serif","Liberation Serif",serif'>I</tspan><tspan font-family='"DejaVu Serif","Liberation Serif",serif'>I</tspan></text>
<rect x="748" y="615" width="20.75" height="12.5" rx="3.2" ry="3.2" fill="#dcbbcc" stroke="#c492ad" stroke-width="1"/>
<text x="751.25" y="625" font-size="10" text-anchor="start" fill="#111" font-weight="normal" textLength="13.75" lengthAdjust="spacingAndGlyphs">HA</text>
<text x="807" y="10.4" font-size="7.6" fill="#bdbdbd" style="font-family:'Liberation Sans',sans-serif" textLength="36.6" lengthAdjust="spacingAndGlyphs">Created by</text>
<path d="M846.8 2 L850.8 2 L850.8 8 L849.5 12.3 Q848.8 13.1 848.1 12.3 L846.8 8 Z" fill="#9ddbfa"/>
<path d="M850.8 2.1 Q853.8 2.6 853.3 5.6 L850.8 6.3 Z" fill="#a6dffa"/>
<rect x="849.5" y="2.4" width="1.3" height="5.6" fill="#c6ebfc"/>
<text x="855.8" y="10.7" font-size="9.2" fill="#8d949c" style="font-family:'Liberation Sans',sans-serif" textLength="43.9" lengthAdjust="spacingAndGlyphs">SnapGene</text>
</svg>
</body></html>
